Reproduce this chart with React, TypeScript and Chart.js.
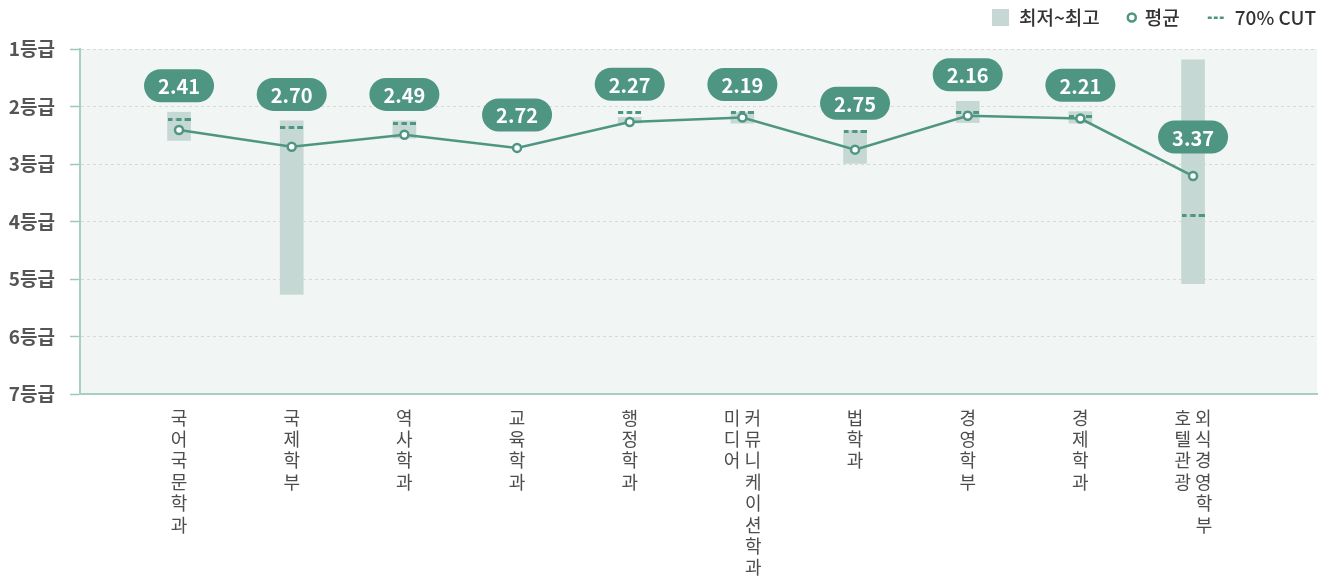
import React, { useEffect, useRef } from 'react';
import { Chart, registerables } from 'chart.js';

Chart.register(...registerables);

// ---- data ----
const categories = ['국어국문학과', '국제학부', '역사학과', '교육학과', '행정학과', '미디어커뮤니케이션학과', '법학과', '경영학부', '경제학과', '호텔관광외식경영학부'];
const labelColumns = [['국어국문학과'], ['국제학부'], ['역사학과'], ['교육학과'], ['행정학과'], ['미디어', '커뮤니케이션학과'], ['법학과'], ['경영학부'], ['경제학과'], ['호텔관광', '외식경영학부']];
const bestGrades = [2.10, 2.25, 2.25, null, 2.19, 2.10, 2.42, 1.91, 2.09, 1.19];
const worstGrades = [2.59, 5.27, 2.55, null, 2.29, 2.29, 2.99, 2.28, 2.29, 5.08];
const averages = [2.41, 2.70, 2.49, 2.72, 2.27, 2.19, 2.75, 2.16, 2.21, 3.21];
const averageLabels = ['2.41', '2.70', '2.49', '2.72', '2.27', '2.19', '2.75', '2.16', '2.21', '3.37'];
const cut70 = [2.22, 2.36, 2.29, null, 2.10, 2.11, 2.43, 2.11, 2.18, 3.89];
const gradeTicks = [1, 2, 3, 4, 5, 6, 7];
const legendLabels = ['최저~최고', '평균', '70% CUT'];

// ---- styles ----
const FONT = '"Noto Sans CJK KR", "Noto Sans", sans-serif';
const TEAL = '#4e9682';
const BAR = '#c6d8d3';
const BG = '#f1f5f3';

function buildTickLines(cols: string[][]): string[][] {
  return cols.map((c) => {
    if (c.length === 1) return Array.from(c[0]);
    const a = Array.from(c[0]);
    const b = Array.from(c[1]);
    const n = Math.max(a.length, b.length);
    const lines: string[] = [];
    for (let k = 0; k < n; k++) lines.push(`${a[k] ?? '\u3000'} ${b[k] ?? '\u3000'}`);
    return lines;
  });
}

function makeDashImage(): HTMLCanvasElement {
  const c = document.createElement('canvas');
  c.width = 23;
  c.height = 3;
  const g = c.getContext('2d')!;
  g.fillStyle = TEAL;
  g.fillRect(0, 0, 5, 3);
  g.fillRect(8.5, 0, 5.5, 3);
  g.fillRect(17, 0, 6, 3);
  return c;
}

const bgPlugin = {
  id: 'areaBg',
  beforeDraw(chart: any) {
    const { ctx, chartArea: a } = chart;
    ctx.save();
    ctx.fillStyle = BG;
    ctx.fillRect(a.left, a.top, a.right - a.left, a.bottom - a.top);
    ctx.restore();
  },
};

const legendPlugin = {
  id: 'customLegend',
  afterDraw(chart: any) {
    const ctx = chart.ctx;
    ctx.save();
    ctx.font = `500 19px ${FONT}`;
    ctx.textBaseline = 'middle';
    ctx.textAlign = 'left';
    const cy = 17.5;
    const right = 1316;
    // item 3: dashed
    const w3 = ctx.measureText(legendLabels[2]).width;
    const x3 = right - w3;
    ctx.fillStyle = '#333';
    ctx.fillText(legendLabels[2], x3, cy);
    const dEnd = x3 - 11;
    const dStart = dEnd - 16;
    ctx.fillStyle = TEAL;
    ctx.fillRect(dStart, cy - 1, 4, 2.5);
    ctx.fillRect(dStart + 6, cy - 1, 4, 2.5);
    ctx.fillRect(dStart + 12, cy - 1, 4, 2.5);
    // item 2: circle
    const w2 = ctx.measureText(legendLabels[1]).width;
    const x2 = dStart - 28 - w2;
    ctx.fillStyle = '#333';
    ctx.fillText(legendLabels[1], x2, cy);
    const cx = x2 - 13;
    ctx.beginPath();
    ctx.arc(cx, cy, 4, 0, Math.PI * 2);
    ctx.fillStyle = '#fff';
    ctx.fill();
    ctx.lineWidth = 2.5;
    ctx.strokeStyle = TEAL;
    ctx.stroke();
    // item 1: square
    const w1 = ctx.measureText(legendLabels[0]).width;
    const x1 = cx - 32 - w1;
    ctx.fillStyle = '#333';
    ctx.fillText(legendLabels[0], x1, cy);
    ctx.fillStyle = BAR;
    ctx.fillRect(x1 - 10 - 17, cy - 8.5, 17, 17);
    ctx.restore();
  },
};

const pillPlugin = {
  id: 'avgPills',
  afterDatasetsDraw(chart: any) {
    const ctx = chart.ctx;
    const ys = chart.scales.y;
    const lineMeta = chart.getDatasetMeta(0);
    ctx.save();
    lineMeta.data.forEach((pt: any, i: number) => {
      const px = pt.x;
      const py = pt.y;
      let top = py - 6.5;
      let extra = 0;
      if (cut70[i] != null) top = Math.min(top, ys.getPixelForValue(cut70[i]) - 1.5);
      if (bestGrades[i] != null) {
        const bt = ys.getPixelForValue(bestGrades[i]);
        if (py - bt < 60) top = Math.min(top, bt);
        else extra = 6;
      }
      const h = 33;
      const w = 70;
      const bottom = top - 10 - extra;
      const y0 = bottom - h;
      const x0 = px - w / 2;
      const r = h / 2;
      ctx.beginPath();
      ctx.moveTo(x0 + r, y0);
      ctx.lineTo(x0 + w - r, y0);
      ctx.arc(x0 + w - r, y0 + r, r, -Math.PI / 2, Math.PI / 2);
      ctx.lineTo(x0 + r, y0 + h);
      ctx.arc(x0 + r, y0 + r, r, Math.PI / 2, Math.PI * 1.5);
      ctx.closePath();
      ctx.fillStyle = TEAL;
      ctx.fill();
      ctx.fillStyle = '#fff';
      ctx.font = `bold 20px ${FONT}`;
      ctx.textAlign = 'center';
      ctx.textBaseline = 'middle';
      ctx.fillText(averageLabels[i], px, y0 + h / 2 + 1);
    });
    ctx.restore();
  },
};

export default function App() {
  const ref = useRef<HTMLCanvasElement | null>(null);

  useEffect(() => {
    if (!ref.current) return;
    const tickLines = buildTickLines(labelColumns);
    const dashImg = makeDashImage();

    const barData = categories
      .map((_, i) => (bestGrades[i] == null ? null : { x: i, y: [bestGrades[i], worstGrades[i]] }))
      .filter((d) => d !== null);
    const cutData = cut70
      .map((v, i) => (v == null ? null : { x: i, y: v }))
      .filter((d) => d !== null);
    const avgData = averages.map((v, i) => ({ x: i, y: v }));

    const chart = new Chart(ref.current, {
      type: 'bar',
      data: {
        datasets: [
          {
            type: 'line',
            label: legendLabels[1],
            data: avgData,
            borderColor: TEAL,
            borderWidth: 2.5,
            pointRadius: 4,
            pointBorderWidth: 2.5,
            pointBackgroundColor: '#fff',
            pointBorderColor: TEAL,
            tension: 0,
            order: 0,
          } as any,
          {
            type: 'scatter',
            label: legendLabels[2],
            data: cutData,
            pointStyle: dashImg,
            pointRadius: 5,
            showLine: false,
            order: 1,
          } as any,
          {
            type: 'bar',
            label: legendLabels[0],
            data: barData,
            backgroundColor: BAR,
            borderWidth: 0,
            barThickness: 23,
            grouped: false,
            order: 2,
          } as any,
        ],
      },
      options: {
        animation: false,
        responsive: true,
        maintainAspectRatio: false,
        layout: { padding: { top: 49, right: 15, bottom: 0, left: 0 } },
        plugins: {
          legend: { display: false },
          tooltip: { enabled: false },
        },
        scales: {
          x: {
            type: 'linear',
            min: -0.879,
            max: 10.1,
            offset: false,
            afterBuildTicks: (s: any) => {
              s.ticks = categories.map((_, i) => ({ value: i }));
            },
            afterFit: (s: any) => {
              s.height = 185;
            },
            grid: { display: false, drawTicks: false },
            border: { display: true, color: '#a9cec4', width: 2 },
            ticks: {
              autoSkip: false,
              maxRotation: 0,
              minRotation: 0,
              padding: 13,
              color: '#4d4d4d',
              font: { family: FONT, size: 18, lineHeight: 1.19 },
              callback: (v: any) => tickLines[v] ?? '',
            },
          },
          y: {
            type: 'linear',
            reverse: true,
            min: 1,
            max: 7,
            afterBuildTicks: (s: any) => {
              s.ticks = gradeTicks.map((v) => ({ value: v }));
            },
            afterFit: (s: any) => {
              s.width = 80;
            },
            grid: {
              color: '#d3dad7',
              lineWidth: 1,
              tickColor: '#9fc8bd',
              tickLength: 10,
              tickWidth: 1.5,
              tickBorderDash: [],
            },
            border: { display: true, color: '#a9cec4', width: 2, dash: [3, 3] },
            ticks: {
              padding: 15,
              color: '#555',
              font: { family: FONT, size: 19, weight: 'bold' },
              callback: (v: any) => `${v}등급`,
            },
          },
        },
      } as any,
      plugins: [bgPlugin, legendPlugin, pillPlugin],
    });

    return () => chart.destroy();
  }, []);

  return (
    <div style={{ position: 'fixed', left: 0, top: 0, width: 1332, height: 579 }}>
      <canvas ref={ref} />
    </div>
  );
}
